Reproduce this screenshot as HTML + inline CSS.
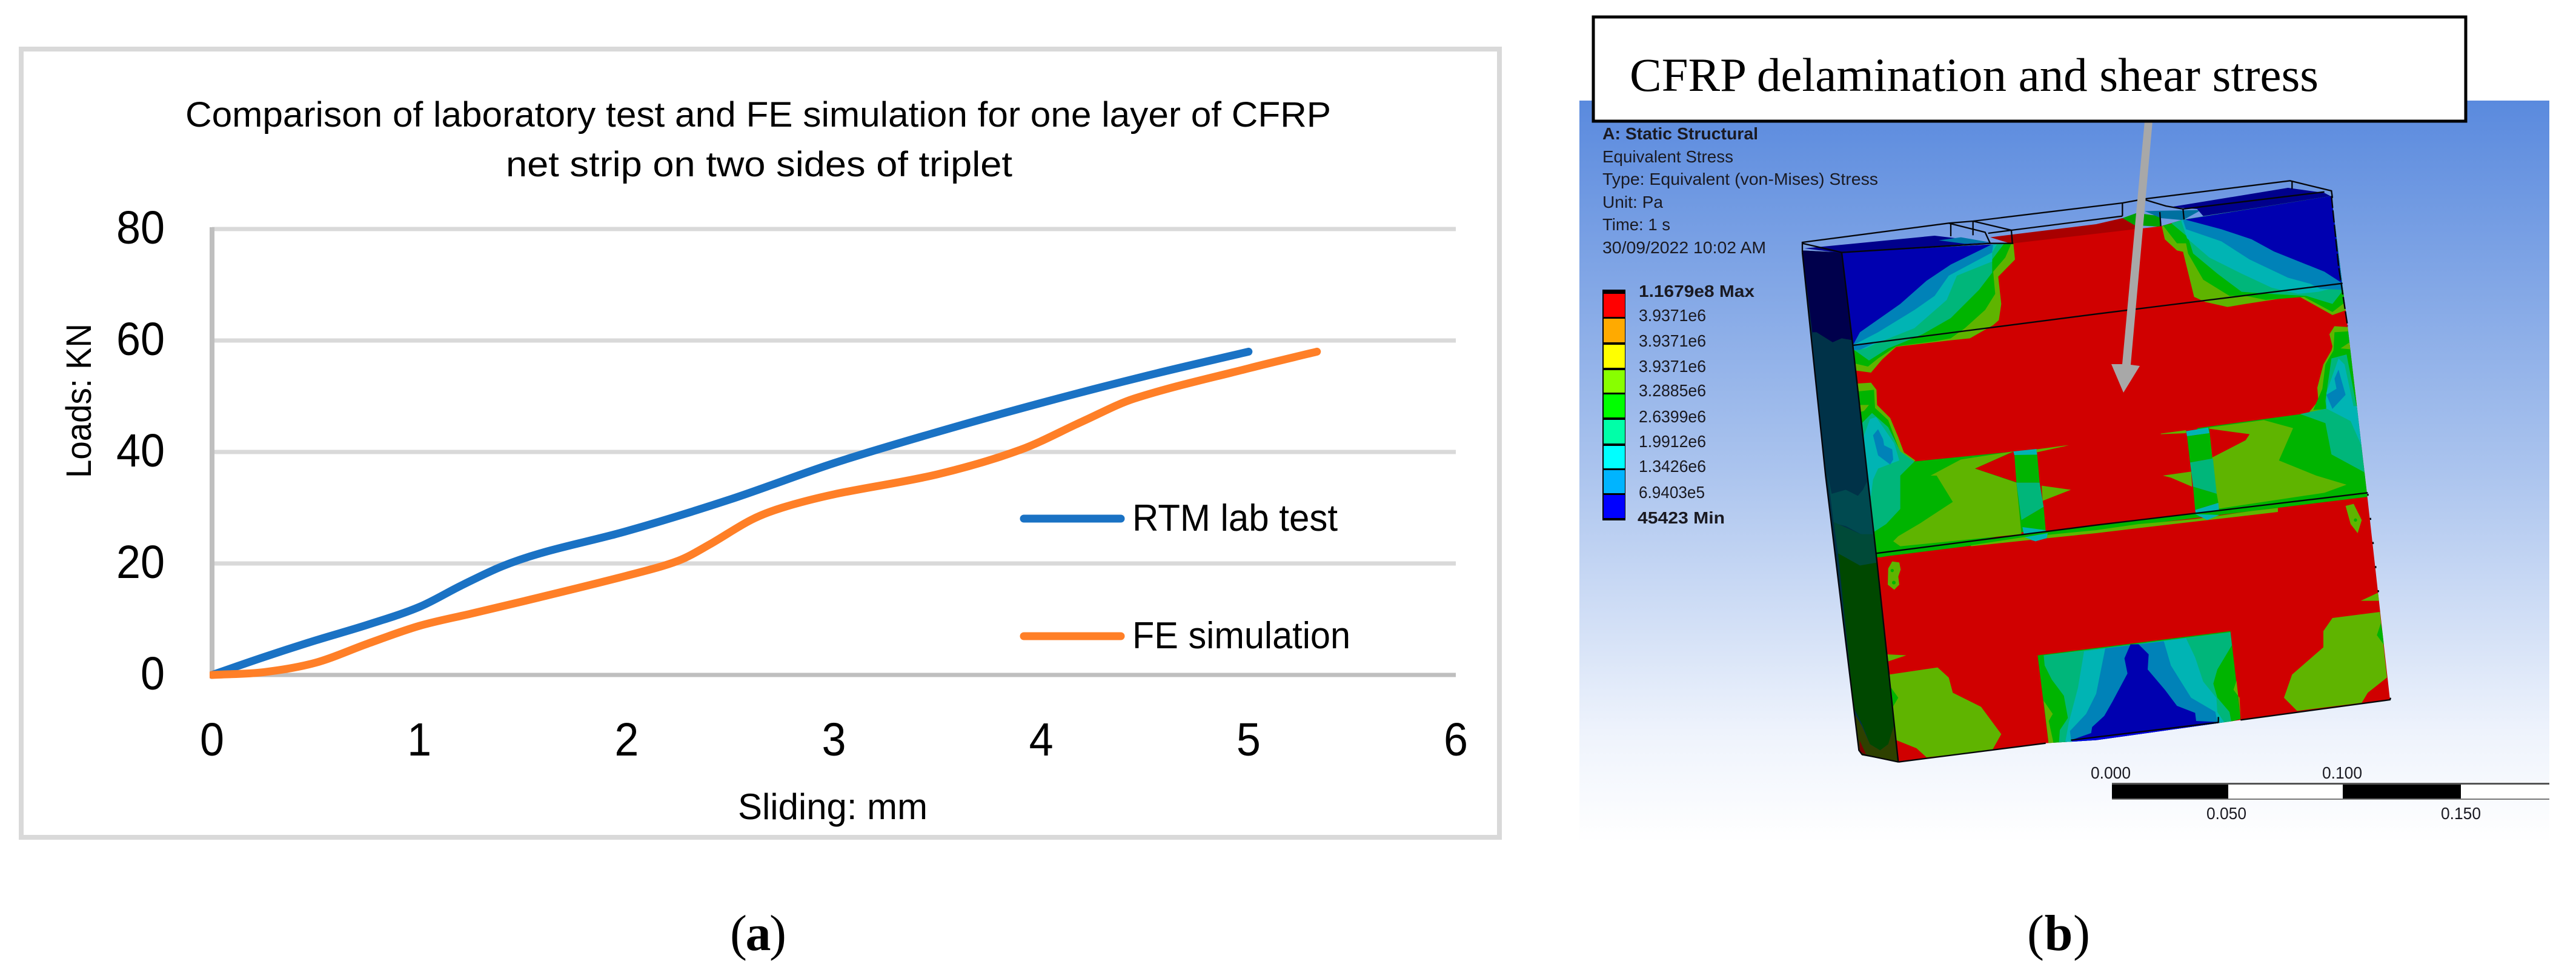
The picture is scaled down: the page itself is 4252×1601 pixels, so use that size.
<!DOCTYPE html>
<html lang="en">
<head>
<meta charset="utf-8">
<title>Laboratory test and FE simulation comparison</title>
<style>
html,body{margin:0;padding:0;background:#fff;}
svg{display:block;}
.r{fill:#d00000}.l{fill:#5fb400}.g{fill:#00b400}.t{fill:#00b67a}.c{fill:#00b4b4}.b{fill:#0082b8}.n{fill:#0000b0}
.sans{font-family:"Liberation Sans",sans-serif;}
.serif{font-family:"Liberation Serif",serif;}
.ans{font-family:"Liberation Sans",sans-serif;font-size:28px;fill:#1a1a22;}
</style>
</head>
<body>
<svg id="root" xmlns="http://www.w3.org/2000/svg" width="4252" height="1601" viewBox="0 0 4252 1601">
<defs>
<linearGradient id="bgGrad" x1="0" y1="0" x2="0" y2="1">
<stop offset="0" stop-color="#5a8ade"/><stop offset="0.5" stop-color="#abc4ee"/><stop offset="0.85" stop-color="#eef3fc"/><stop offset="1" stop-color="#ffffff"/>
</linearGradient>
<clipPath id="faceClip"><polygon points="240,395 1090,350 1820,265 1930,232 2665,115 2745,760 2840,1580 2955,2610 2215,2710 1500,2810 1250,2825 520,2915 410,1885 295,855"/></clipPath>
<clipPath id="plotClip"><rect x="346" y="300" width="2100" height="860"/></clipPath>
</defs>

<rect x="0" y="0" width="4252" height="1601" fill="#ffffff"/>

<!-- Panel (a) -->
<g id="chartA">
<rect x="35" y="81" width="2440" height="1301" fill="#ffffff" stroke="#d9d9d9" stroke-width="8"/>
<text class="sans" x="306" y="209" font-size="58" textLength="1891" lengthAdjust="spacingAndGlyphs" fill="#000">Comparison of laboratory test and FE simulation for one layer of CFRP</text>
<text class="sans" x="835" y="291" font-size="58" textLength="836" lengthAdjust="spacingAndGlyphs" fill="#000">net strip on two sides of triplet</text>
<text class="sans" transform="translate(150,789) rotate(-90)" font-size="58" textLength="255" lengthAdjust="spacingAndGlyphs" fill="#000">Loads: KN</text>
<text class="sans" x="1218" y="1352" font-size="60" textLength="313" lengthAdjust="spacingAndGlyphs" fill="#000">Sliding: mm</text>
<g id="gridLayer"></g>
<g id="tickLayer"></g>
<g id="seriesLayer" clip-path="url(#plotClip)"></g>
<g>
<line x1="1690" y1="856" x2="1850" y2="856" stroke="#1a72c4" stroke-width="13" stroke-linecap="round"/>
<text class="sans" x="1869" y="876" font-size="62" textLength="339" lengthAdjust="spacingAndGlyphs" fill="#000">RTM lab test</text>
<line x1="1690" y1="1050" x2="1850" y2="1050" stroke="#ff7f27" stroke-width="13" stroke-linecap="round"/>
<text class="sans" x="1869" y="1070" font-size="62" textLength="360" lengthAdjust="spacingAndGlyphs" fill="#000">FE simulation</text>
</g>
</g>

<text class="serif" x="1205" y="1568" font-size="84" textLength="93" fill="#000">(<tspan font-weight="bold">a</tspan>)</text>
<text class="serif" x="3346" y="1568" font-size="84" textLength="104" fill="#000">(<tspan font-weight="bold">b</tspan>)</text>

<!-- Panel (b) -->
<g>
<rect x="2607" y="166" width="1601" height="1225" fill="url(#bgGrad)"/>

<g>
<text class="ans" x="2645" y="230" font-weight="bold" textLength="257" lengthAdjust="spacingAndGlyphs">A: Static Structural</text>
<text class="ans" x="2645" y="268" textLength="216" lengthAdjust="spacingAndGlyphs">Equivalent Stress</text>
<text class="ans" x="2645" y="305" textLength="455" lengthAdjust="spacingAndGlyphs">Type: Equivalent (von-Mises) Stress</text>
<text class="ans" x="2645" y="343" textLength="100" lengthAdjust="spacingAndGlyphs">Unit: Pa</text>
<text class="ans" x="2645" y="380" textLength="112" lengthAdjust="spacingAndGlyphs">Time: 1 s</text>
<text class="ans" x="2645" y="418" textLength="270" lengthAdjust="spacingAndGlyphs">30/09/2022 10:02 AM</text>
</g>

<g>
<rect x="2645" y="478" width="38" height="381" fill="#000"/>
<rect x="2647" y="485" width="35" height="38" fill="#ff0000"/>
<rect x="2647" y="526" width="35" height="39" fill="#ffaa00"/>
<rect x="2647" y="569" width="35" height="38" fill="#ffff00"/>
<rect x="2647" y="611" width="35" height="37" fill="#88ff00"/>
<rect x="2647" y="651" width="35" height="38" fill="#00ff00"/>
<rect x="2647" y="693" width="35" height="39" fill="#00ffa8"/>
<rect x="2647" y="736" width="35" height="37" fill="#00ffff"/>
<rect x="2647" y="776" width="35" height="38" fill="#00b4ff"/>
<rect x="2647" y="817" width="35" height="38" fill="#0000ff"/>
<text class="ans" x="2705" y="490" font-weight="bold" textLength="191" lengthAdjust="spacingAndGlyphs">1.1679e8 Max</text>
<text class="ans" x="2705" y="530" textLength="111" lengthAdjust="spacingAndGlyphs">3.9371e6</text>
<text class="ans" x="2705" y="572" textLength="111" lengthAdjust="spacingAndGlyphs">3.9371e6</text>
<text class="ans" x="2705" y="614" textLength="111" lengthAdjust="spacingAndGlyphs">3.9371e6</text>
<text class="ans" x="2705" y="654" textLength="111" lengthAdjust="spacingAndGlyphs">3.2885e6</text>
<text class="ans" x="2705" y="697" textLength="111" lengthAdjust="spacingAndGlyphs">2.6399e6</text>
<text class="ans" x="2705" y="738" textLength="111" lengthAdjust="spacingAndGlyphs">1.9912e6</text>
<text class="ans" x="2705" y="779" textLength="111" lengthAdjust="spacingAndGlyphs">1.3426e6</text>
<text class="ans" x="2705" y="822" textLength="109" lengthAdjust="spacingAndGlyphs">6.9403e5</text>
<text class="ans" x="2703" y="864" font-weight="bold" textLength="144" lengthAdjust="spacingAndGlyphs">45423 Min</text>
</g>

<g transform="translate(2960,285) scale(0.33333)">
 <!-- side face -->
 <g>
  <polygon fill="#003248" points="45,385 240,395 295,855 410,1885 520,2918 340,2885 325,2850 160,1500"/>
  <polygon fill="#00004c" points="45,385 240,395 295,840 240,820 195,840 115,790 95,800"/>
  <polygon fill="#003248" points="95,790 115,790 195,840 240,820 295,830 355,1500 345,1570 320,1600 260,1570 190,1590 165,1500"/>
  <polygon fill="#004a50" points="170,1490 190,1590 260,1570 320,1600 345,1570 365,1530 400,1800 335,1790 260,1750 200,1735"/>
  <polygon fill="#004a38" points="200,1730 335,1790 400,1790 420,1935 330,1950 260,1930 222,1890"/>
  <polygon fill="#004800" points="222,1885 330,1945 418,1930 518,2710 470,2830 430,2860 380,2830 340,2730 300,2650"/>
  <polygon fill="#2e4000" points="305,2680 340,2740 380,2830 430,2860 470,2830 510,2700 520,2917 340,2885 325,2850"/>
  <polygon fill="#7a0000" points="328,2810 360,2880 330,2868"/>
 </g>
 <!-- top strip -->
 <g>
  <polygon fill="#00008c" points="55,375 700,312 980,345 240,398"/>
  <polygon fill="#0077a8" points="720,335 830,320 975,345 850,352"/>
  <polygon fill="#a80000" points="975,320 1500,255 1630,225 1700,240 1690,290 1500,325 1090,355"/>
  <polygon fill="#00a000" points="1630,225 1700,200 1820,215 1820,268 1690,260"/>
  <polygon fill="#0070a0" points="1740,190 2020,185 1930,235 1820,225"/>
  <polygon fill="#00008c" points="1870,170 2450,75 2630,100 2665,118 2030,215 2000,180"/>
 </g>
 <!-- front face with contours -->
 <g clip-path="url(#faceClip)">
  <rect class="r" x="0" y="0" width="3200" height="3000"/>
  <!-- upper-left contour stack -->
  <g>
   <polygon class="l" points="200,380 1090,350 1098,430 1015,515 1030,650 1018,730 990,755 875,820 780,830 510,862 440,925 385,990 310,980 280,860"/>
   <polygon class="g" points="200,380 1080,350 1050,420 990,490 1000,600 950,680 850,770 780,820 700,835 510,860 420,920 370,960 305,945 280,860"/>
   <polygon class="t" points="200,380 1045,350 985,430 985,495 920,580 780,720 640,800 520,850 470,870 375,930 305,880 280,860"/>
   <polygon class="c" points="200,380 1010,352 985,395 985,440 810,510 760,630 600,770 400,850 360,870 300,880 280,860"/>
   <polygon class="b" points="200,380 990,352 985,395 770,510 700,610 600,680 420,790 295,855"/>
   <polygon class="b" points="295,855 410,840 330,877 300,878"/>
   <polygon class="n" points="200,380 990,352 780,455 660,535 530,650 330,790 295,855"/>
  </g>
  <!-- upper-right contour stack -->
  <g transform="translate(1500,0)">
   <polygon class="l" points="325,265 1165,115 1240,680 1170,705 1000,610 740,650 650,665 540,640 485,615 430,392 400,385 340,330"/>
   <polygon class="g" points="330,260 1165,115 1235,640 1170,690 1030,615 840,630 740,610 660,610 530,530 455,400 445,350 400,350"/>
   <polygon class="t" points="360,240 1165,115 1225,580 1170,650 1040,610 860,600 720,590 600,500 480,400 455,320"/>
   <polygon class="c" points="420,235 1165,115 1225,560 1100,590 1000,600 870,570 720,500 560,420 450,325"/>
   <polygon class="b" points="430,235 1165,115 1225,580 1110,575 1060,550 950,520 760,430 620,340 445,280"/>
   <polygon class="n" points="440,232 1165,115 1215,545 1130,490 880,390 770,330 620,280"/>
  </g>
  <!-- middle band, left -->
  <g>
   <polygon class="l" points="300,1045 385,1040 412,1075 415,1150 480,1215 520,1310 548,1385 605,1425 500,1500 300,1500"/>
   <polygon class="g" points="300,1085 400,1075 405,1165 470,1225 530,1385 600,1430 1100,1380 1110,1500 1140,1700 1250,1760 430,1905 380,1885 300,1500"/>
   <polygon class="l" points="310,1150 375,1150 350,1180 310,1190"/>
   <polygon class="l" points="680,1500 830,1420 1090,1380 900,1465 1105,1535 1130,1790 530,1850 495,1825 520,1800 630,1735 790,1630 710,1500"/>
   <polygon class="r" points="900,1465 1098,1378 1110,1535"/>
   <polygon class="t" points="330,1250 390,1190 470,1260 530,1380 600,1430 530,1500 530,1665 460,1740 390,1785 370,1650 345,1500"/>
   <polygon class="c" points="340,1330 380,1220 410,1210 500,1340 525,1425 420,1465 395,1520 385,1600 360,1600 345,1500"/>
   <polygon class="b" points="395,1300 420,1270 445,1320 450,1350 490,1370 495,1420 480,1445 420,1400"/>
   <polygon class="c" points="1090,1380 1205,1368 1208,1400 1095,1400"/>
   <polygon class="g" points="1095,1398 1208,1396 1220,1535 1105,1535"/>
   <polygon class="t" points="1105,1535 1220,1535 1240,1655 1130,1720"/>
   <polygon class="g" points="1130,1720 1240,1655 1250,1770 1135,1760"/>
   <polygon class="c" points="1135,1755 1250,1770 1255,1805 1200,1825 1145,1810"/>
   <polygon class="l" points="1230,1550 1375,1570 1235,1625"/>
   <polygon class="l" points="1205,1370 1340,1352 1365,1350 1205,1385"/>
  </g>
  <!-- middle band, right -->
  <g>
   <polygon class="g" points="2000,1265 2555,1190 2700,1165 2850,1500 2845,1590 2100,1675"/>
   <polygon class="l" points="2060,1262 2330,1225 2475,1265 2405,1425 2590,1500 2740,1545 2630,1585 2097,1665"/>
   <polygon class="l" points="1820,1292 1945,1275 1945,1290 1820,1295"/>
   <polygon class="l" points="2640,1170 2555,1185 2600,1130 2595,1065 2625,950 2665,880 2670,860 2655,800 2680,760 2760,765 2810,1200"/>
   <polygon class="g" points="2575,1175 2620,1070 2635,950 2675,880 2680,790 2760,785 2800,1160"/>
   <polygon class="l" points="2710,870 2755,840 2765,875"/>
   <polygon class="t" points="2510,1195 2630,1170 2800,1160 2840,1490 2665,1395 2635,1240"/>
   <polygon class="t" points="2635,1130 2665,920 2740,900 2790,1160 2640,1170"/>
   <polygon class="c" points="2640,1170 2640,1090 2700,920 2730,950 2775,1160"/>
   <polygon class="c" points="2635,1165 2800,1155 2835,1400 2760,1230"/>
   <polygon class="b" points="2640,1100 2690,1070 2680,1020 2700,975 2735,1100 2670,1170"/>
   <polygon class="c" points="1945,1280 2055,1262 2060,1290 1950,1305"/>
   <polygon class="g" points="1950,1305 2060,1290 2075,1415 1965,1435"/>
   <polygon class="t" points="1965,1435 2078,1415 2097,1590 1980,1555"/>
   <polygon class="g" points="1980,1555 2097,1590 2105,1635 1990,1670"/>
   <polygon class="c" points="1990,1670 2105,1635 2110,1690 1995,1700"/>
   <polygon class="r" points="2060,1268 2260,1295 2240,1325 2075,1410"/>
   <polygon class="l" points="1830,1500 1970,1480 1975,1555 1870,1510"/>
  </g>
  <!-- strip below the lower seam -->
  <g>
   <polygon class="g" points="410,1885 1500,1745 2840,1585 2845,1605 1500,1770 415,1905"/>
   <polygon class="l" points="880,1845 1140,1805 1500,1770 1710,1740 1880,1725 1990,1715 2100,1700 2270,1675 2400,1660 2400,1680 2100,1715 1880,1740 1710,1760 1500,1785 1140,1822 880,1850"/>
   <polygon class="c" points="1990,1690 2110,1695 2050,1720"/>
   <polygon class="c" points="1145,1805 1260,1785 1255,1810 1200,1825"/>
  </g>
  <!-- lower panel -->
  <g>
   <polygon class="l" points="475,2485 715,2450 770,2500 790,2575 930,2645 1030,2780 985,2860 660,2895 610,2850 510,2810 490,2650"/>
   <polygon class="g" points="470,2530 520,2600 490,2650"/>
   <polygon class="l" points="465,2385 560,2390 470,2420"/>
   <polygon class="l" points="470,1960 490,1925 525,1930 532,1965 520,2000 525,2040 500,2065 468,2040"/>
   <circle class="g" cx="490" cy="1970" r="8"/>
   <circle class="g" cx="498" cy="2030" r="9"/>
   <polygon class="g" points="1600,2405 1645,2380 1690,2400 1645,2430"/>
   <polygon class="c" points="1625,2405 1645,2392 1670,2403 1645,2418"/>
   <polygon class="l" points="2670,2205 2905,2175 2940,2500 2845,2575 2815,2625 2495,2665 2430,2600 2470,2485 2625,2350 2625,2270"/>
   <polygon class="g" points="2910,2230 2890,2290 2930,2345"/>
   <polygon class="l" points="2810,2120 2895,2080 2905,2120"/>
   <polygon class="l" points="2735,1650 2775,1640 2815,1720 2795,1785 2760,1740"/>
   <circle class="g" cx="2784" cy="1720" r="8"/>
  </g>
  <!-- centre notch -->
  <g>
   <polygon class="g" points="1210,2390 2165,2270 2215,2705 2110,2735 1500,2820 1265,2830"/>
   <polygon class="l" points="1240,2615 1285,2680 1265,2715 1290,2830 1265,2830"/>
   <polygon class="l" points="2195,2515 2180,2560 2210,2600 2215,2700"/>
   <polygon class="t" points="1240,2390 2165,2275 2172,2340 2100,2460 2080,2530 2100,2600 2160,2670 2170,2722 2110,2735 1315,2830 1320,2760 1340,2730 1360,2700 1340,2590 1280,2510 1245,2440"/>
   <polygon class="c" points="1440,2370 1945,2305 1990,2400 2030,2520 2095,2600 2100,2670 2140,2730 1345,2830 1365,2720 1410,2550"/>
   <polygon class="b" points="1545,2355 1835,2320 1870,2440 1970,2600 2090,2670 2105,2735 1400,2825 1375,2805 1370,2765 1450,2680 1500,2580"/>
   <polygon class="n" points="1670,2335 1710,2335 1760,2385 1755,2460 1840,2560 1900,2640 1990,2675 1995,2715 2100,2720 2100,2735 1560,2815 1500,2810 1375,2810 1475,2775 1480,2745 1540,2690 1580,2620 1655,2480 1640,2405"/>
   <polygon fill="#0000e0" points="1375,2812 2100,2722 2110,2735 1560,2815 1400,2830"/>
  </g>
 </g>
 <!-- outlines -->
 <g fill="none" stroke="#05060a" stroke-width="7">
  <polyline points="45,395 45,345 770,250 890,240 1630,150 1740,130 2460,40 2665,90 2670,125"/>
  <polyline points="45,350 240,395 975,350 1090,350"/>
  <polyline points="780,255 780,315"/>
  <polyline points="770,250 950,295 975,350"/>
  <polyline points="890,240 1080,285 1085,350"/>
  <polyline points="890,240 890,310"/>
  <polyline points="965,300 1080,285 1630,215"/>
  <polyline points="1630,150 1630,215"/>
  <polyline points="1745,135 1845,165 1930,180 2630,95"/>
  <polyline points="1815,195 1820,265"/>
  <polyline points="1930,180 1935,232"/>
  <polyline points="2470,40 2470,80"/>
  <polyline points="295,855 1500,700 2720,548"/>
  <polyline points="410,1885 1500,1745 2845,1585"/>
  <polyline points="45,395 160,1500 325,2860 340,2880 520,2918"/>
  <polyline points="240,395 295,855 410,1885 520,2918"/>
  <polyline points="520,2918 1250,2825"/>
  <polyline points="2215,2710 2955,2610 2958,2600"/>
  <polyline points="2665,115 2700,460 2745,760" stroke-dasharray="60 12"/>
  <polyline points="2845,1590 2900,2100" stroke-dasharray="10 110"/>
  <polyline points="1375,2810 2105,2722 2105,2695"/>
 </g>
</g>

<g>
<rect x="3486" y="1292" width="722" height="3" fill="#555"/>
<rect x="3486" y="1295" width="722" height="23" fill="#ffffff"/>
<rect x="3486" y="1295" width="192" height="23" fill="#000"/>
<rect x="3867" y="1295" width="195" height="23" fill="#000"/>
<rect x="3486" y="1318" width="722" height="2" fill="#777"/>
<text class="ans" x="3451" y="1285" textLength="66" lengthAdjust="spacingAndGlyphs">0.000</text>
<text class="ans" x="3833" y="1285" textLength="66" lengthAdjust="spacingAndGlyphs">0.100</text>
<text class="ans" x="3642" y="1352" textLength="66" lengthAdjust="spacingAndGlyphs">0.050</text>
<text class="ans" x="4029" y="1352" textLength="66" lengthAdjust="spacingAndGlyphs">0.150</text>
</g>

<polygon fill="#a8a8a8" points="3540,200 3553,200 3517,602 3532,604 3505,648 3485,601 3503,601"/>
<rect x="2630" y="28" width="1440" height="172" fill="#ffffff" stroke="#000" stroke-width="5"/>
<text class="serif" x="2690" y="150" font-size="78" textLength="1137" lengthAdjust="spacingAndGlyphs" fill="#000">CFRP delamination and shear stress</text>
</g>
</svg>

<script>
const xTickValues = [0, 1, 2, 3, 4, 5, 6];
const yTickValues = [0, 20, 40, 60, 80];
const rtmSliding = [0, 0.25, 0.5, 0.75, 1, 1.2, 1.4, 1.6, 2, 2.5, 3, 3.5, 4, 4.5, 5];
const rtmLoad = [0, 3.2, 6.2, 9, 12.2, 16, 19.5, 22, 25.8, 31.5, 38, 43.6, 48.8, 53.6, 58];
const feSliding = [0, 0.25, 0.5, 0.75, 1, 1.25, 1.5, 2, 2.25, 2.4, 2.6, 2.75, 3, 3.5, 3.9, 4.2, 4.45, 5, 5.33];
const feLoad = [0, 0.5, 2.2, 5.6, 8.8, 11, 13.2, 17.8, 20.5, 23.4, 27.8, 30, 32.4, 36, 40.4, 45.5, 49.6, 55, 58];

const SVG_NS = 'http://www.w3.org/2000/svg';
function xScale(v) { return 350 + v * (2403 - 350) / 6; }
function yScale(v) { return 1114 - v * (1114 - 378) / 80; }

const gridLayer = document.getElementById('gridLayer');
const tickLayer = document.getElementById('tickLayer');
const seriesLayer = document.getElementById('seriesLayer');

yTickValues.forEach(function (v) {
  const line = document.createElementNS(SVG_NS, 'line');
  line.setAttribute('x1', xScale(0));
  line.setAttribute('x2', xScale(6));
  line.setAttribute('y1', yScale(v));
  line.setAttribute('y2', yScale(v));
  line.setAttribute('stroke', v === 0 ? '#bfbfbf' : '#d9d9d9');
  line.setAttribute('stroke-width', '7');
  
  
  gridLayer.appendChild(line);

  const label = document.createElementNS(SVG_NS, 'text');
  label.textContent = String(v);
  label.setAttribute('x', '272');
  label.setAttribute('y', yScale(v) + 24);
  label.setAttribute('text-anchor', 'end');
  label.setAttribute('font-size', '77');
  label.setAttribute('textLength', String(v).length * 40);
  label.setAttribute('lengthAdjust', 'spacingAndGlyphs');
  label.setAttribute('font-family', '"Liberation Sans", sans-serif');
  
  
  tickLayer.appendChild(label);
});

const yAxisLine = document.createElementNS(SVG_NS, 'line');
yAxisLine.setAttribute('x1', xScale(0));
yAxisLine.setAttribute('x2', xScale(0));
yAxisLine.setAttribute('y1', yScale(80) - 3);
yAxisLine.setAttribute('y2', yScale(0) + 3);
yAxisLine.setAttribute('stroke', '#bfbfbf');
yAxisLine.setAttribute('stroke-width', '8');


gridLayer.appendChild(yAxisLine);

xTickValues.forEach(function (v) {
  const label = document.createElementNS(SVG_NS, 'text');
  label.textContent = String(v);
  label.setAttribute('x', xScale(v));
  label.setAttribute('y', '1247');
  label.setAttribute('text-anchor', 'middle');
  label.setAttribute('font-size', '77');
  label.setAttribute('textLength', '40');
  label.setAttribute('lengthAdjust', 'spacingAndGlyphs');
  label.setAttribute('font-family', '"Liberation Sans", sans-serif');
  
  
  tickLayer.appendChild(label);
});

function smoothPath(xs, ys) {
  const px = xs.map(xScale);
  const py = ys.map(yScale);
  const n = px.length;
  const slope = px.map(function (_, i) {
    const a = Math.max(i - 1, 0);
    const b = Math.min(i + 1, n - 1);
    return (py[b] - py[a]) / (px[b] - px[a]);
  });
  let d = 'M' + px[0] + ' ' + py[0];
  for (let i = 0; i < n - 1; i++) {
    const dx = (px[i + 1] - px[i]) / 3;
    d += 'C' + (px[i] + dx) + ' ' + (py[i] + slope[i] * dx) + ' ' +
         (px[i + 1] - dx) + ' ' + (py[i + 1] - slope[i + 1] * dx) + ' ' +
         px[i + 1] + ' ' + py[i + 1];
  }
  return d;
}

const rtmLine = document.createElementNS(SVG_NS, 'path');
rtmLine.setAttribute('d', smoothPath(rtmSliding, rtmLoad));
rtmLine.setAttribute('fill', 'none');
rtmLine.setAttribute('stroke', '#1a72c4');
rtmLine.setAttribute('stroke-width', '13');
rtmLine.setAttribute('stroke-linecap', 'round');
rtmLine.setAttribute('stroke-linejoin', 'round');


seriesLayer.appendChild(rtmLine);

const feLine = document.createElementNS(SVG_NS, 'path');
feLine.setAttribute('d', smoothPath(feSliding, feLoad));
feLine.setAttribute('fill', 'none');
feLine.setAttribute('stroke', '#ff7f27');
feLine.setAttribute('stroke-width', '13');
feLine.setAttribute('stroke-linecap', 'round');
feLine.setAttribute('stroke-linejoin', 'round');


seriesLayer.appendChild(feLine);
</script>
</body>
</html>
